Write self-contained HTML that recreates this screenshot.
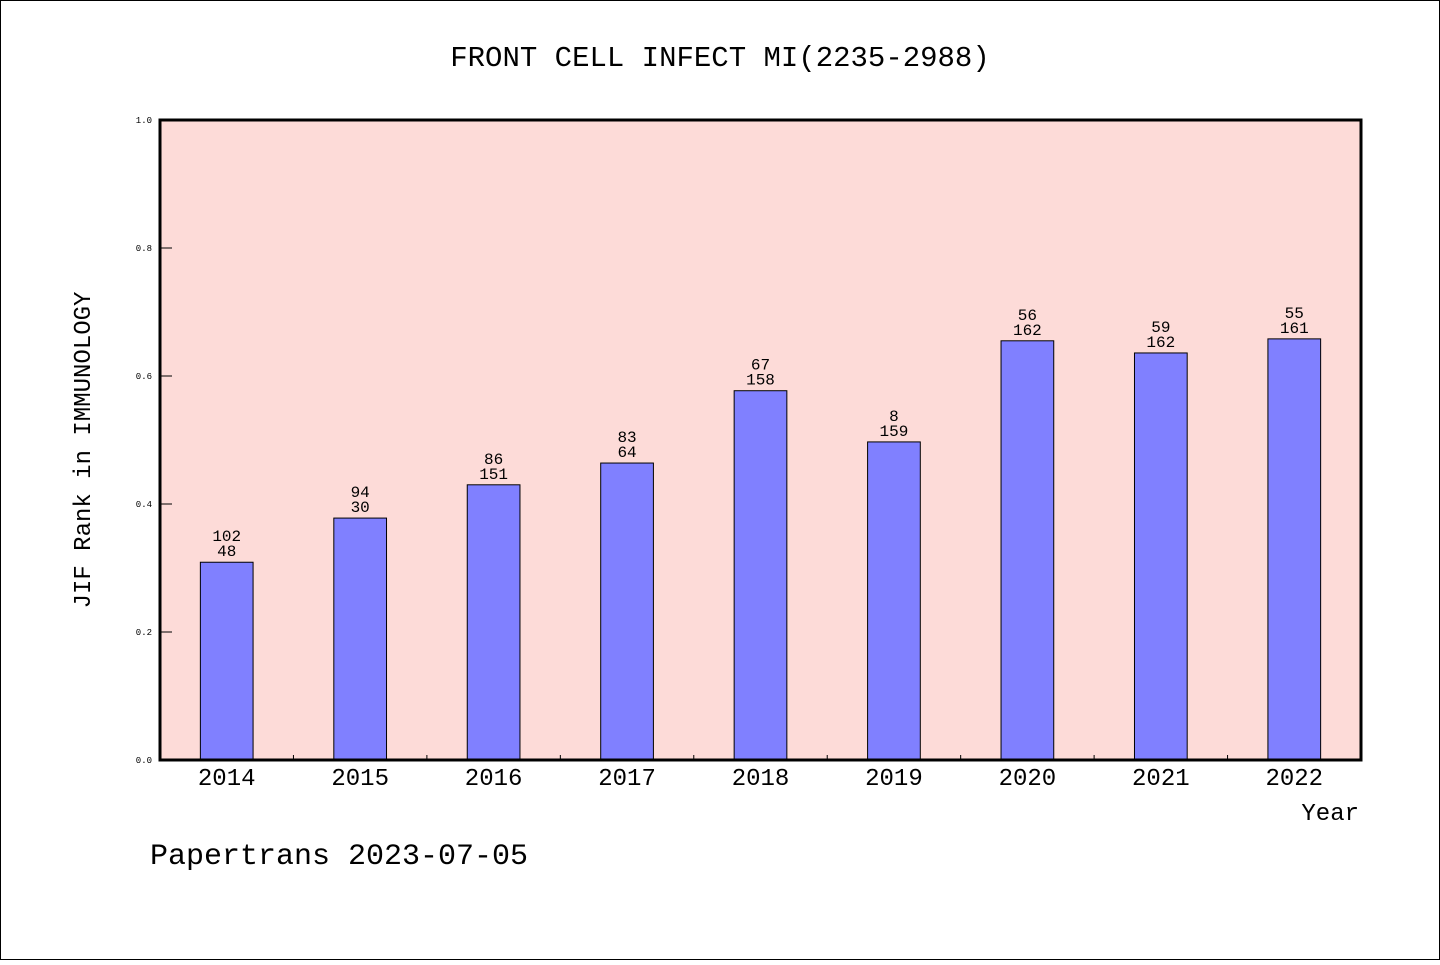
<!DOCTYPE html>
<html><head><meta charset="utf-8"><style>
html,body{margin:0;padding:0;background:#fff}
svg text{font-family:"WenQuanYi Zen Hei","Liberation Mono",monospace;fill:#000}
</style></head><body>
<svg width="1440" height="960" viewBox="0 0 1440 960">
<rect x="0.5" y="0.5" width="1439" height="959" fill="#fff" stroke="#000"/>
<text x="720" y="66" text-anchor="middle" font-size="29">FRONT CELL INFECT MI(2235-2988)</text>
<rect x="160" y="120" width="1201" height="640" fill="#fddbd8"/>
<g id="bars"></g>
<g id="yaxis"></g>
<g id="xaxis"></g>
<rect x="160" y="120" width="1201" height="640" fill="none" stroke="#000" stroke-width="3"/>
<text x="90" y="450" transform="rotate(-90 90 450)" text-anchor="middle" font-size="24">JIF Rank in IMMUNOLOGY</text>
<text x="1359" y="820" text-anchor="end" font-size="24">Year</text>
<text x="150" y="864" font-size="30">Papertrans 2023-07-05</text>
</svg>
<script>
const categories=["2014","2015","2016","2017","2018","2019","2020","2021","2022"];
const values=[0.309,0.378,0.430,0.464,0.577,0.497,0.655,0.636,0.658];
const topLabels=["102","94","86","83","67","8","56","59","55"];
const bottomLabels=["48","30","151","64","158","159","162","162","161"];
const yTicks=[0,0.2,0.4,0.6,0.8,1.0];
const NS="http://www.w3.org/2000/svg";
const X0=160,W=1201,Y0=760,H=640;
const band=W/categories.length;
const xc=i=>X0+band*(i+0.5);
const y=v=>Y0-v*H;
function mk(t,a){const e=document.createElementNS(NS,t);for(const k in a)e.setAttribute(k,a[k]);return e;}
const bars=document.getElementById('bars'),ya=document.getElementById('yaxis'),xa=document.getElementById('xaxis');
categories.forEach((c,i)=>{
 const bw=band*0.395;
 const r=mk('rect',{x:xc(i)-bw/2,y:y(values[i]),width:bw,height:Y0-y(values[i]),fill:'#8080ff',stroke:'#000','stroke-width':1});
 
 
 bars.appendChild(r);
 const t1=mk('text',{x:xc(i),y:y(values[i])-21,'text-anchor':'middle','font-size':16});
 t1.textContent=topLabels[i];
 
 
 bars.appendChild(t1);
 const t2=mk('text',{x:xc(i),y:y(values[i])-6,'text-anchor':'middle','font-size':16});
 t2.textContent=bottomLabels[i];
 
 
 bars.appendChild(t2);
 const lt=mk('text',{x:xc(i),y:Y0+25,'text-anchor':'middle','font-size':24});
 lt.textContent=c;
 
 
 xa.appendChild(lt);
 if(i>0){const tk=mk('line',{x1:X0+band*i,x2:X0+band*i,y1:Y0,y2:Y0-5,stroke:'#000'});
 
 
 xa.appendChild(tk);}
});
yTicks.forEach(v=>{
 const tk=mk('line',{x1:X0,x2:X0+12,y1:y(v),y2:y(v),stroke:'#000'});
 
 
 ya.appendChild(tk);
 const t=mk('text',{x:X0-8,y:y(v)+3,'text-anchor':'end','font-size':9});
 t.textContent=v.toFixed(1);
 
 
 ya.appendChild(t);
});
</script>
</body></html>
